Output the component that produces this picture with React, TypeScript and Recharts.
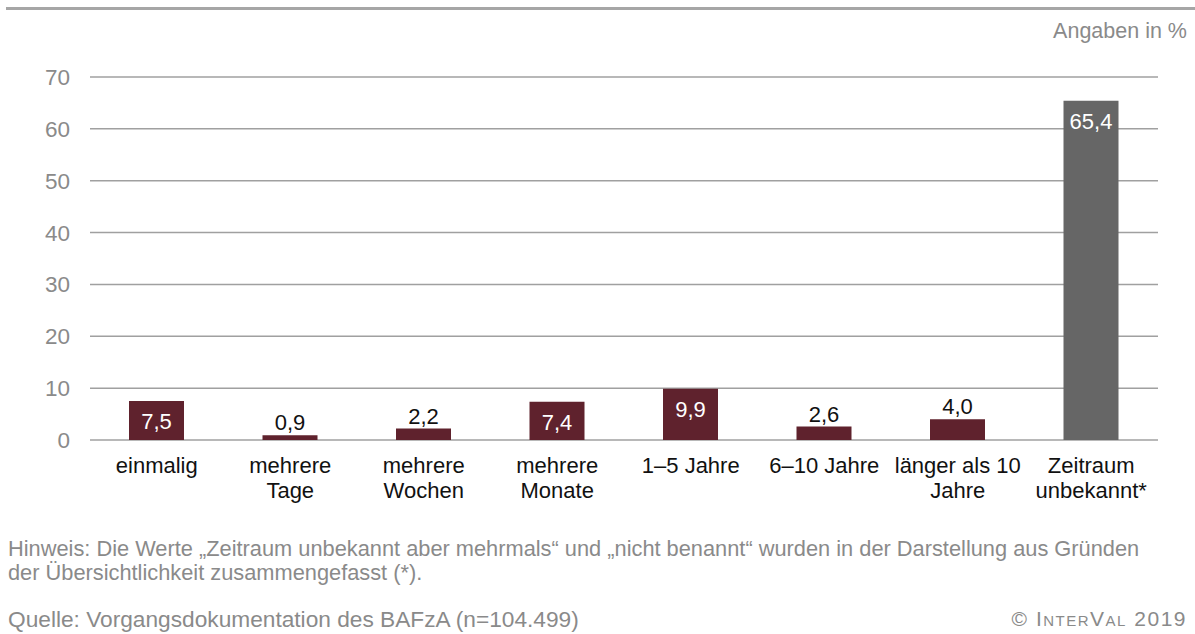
import { BarChart, Bar, XAxis, YAxis, CartesianGrid, Cell, LabelList } from 'recharts';

const categories = [
  'einmalig',
  'mehrere\nTage',
  'mehrere\nWochen',
  'mehrere\nMonate',
  '1–5 Jahre',
  '6–10 Jahre',
  'länger als 10\nJahre',
  'Zeitraum\nunbekannt*',
];
const values = [7.5, 0.9, 2.2, 7.4, 9.9, 2.6, 4.0, 65.4];
const yTicks = [0, 10, 20, 30, 40, 50, 60, 70];

const RED = '#5f222d';
const GREY_BAR = '#666666';
const TEXT_GREY = '#8a8a8a';
const FONT = 'Liberation Sans, Arial, sans-serif';

const data = categories.map((name, i) => ({ name, value: values[i] }));

const CategoryTick = (props: any) => {
  const { x, y, payload } = props;
  const lines = String(payload.value).split('\n');
  return (
    <text x={x} y={y} textAnchor="middle" fontSize={22} fill="#111" fontFamily={FONT}>
      {lines.map((l, i) => (
        <tspan key={i} x={x} dy={i === 0 ? 31 : 25}>
          {l}
        </tspan>
      ))}
    </text>
  );
};

// white label inside tall bars, dark label above short ones
const ValueLabel = (props: any) => {
  const { x, y, width, value } = props;
  const cx = x + width / 2;
  const txt = Number(value).toFixed(1).replace('.', ',');
  if (value >= 5) {
    return (
      <text x={cx} y={y + 28} textAnchor="middle" fontSize={22} fill="#fff" fontFamily={FONT}>
        {txt}
      </text>
    );
  }
  return (
    <text x={cx} y={y - 5} textAnchor="middle" fontSize={22} fill="#111" fontFamily={FONT}>
      {txt}
    </text>
  );
};

export default function App() {
  return (
    <div style={{ position: 'relative', width: 1195, height: 634, background: '#fff', fontFamily: FONT }}>
      <style>{`body{margin:0}`}</style>
      <div style={{ position: 'absolute', left: 6, right: 0, top: 7, height: 3, background: '#a6a6a6' }} />
      <div style={{ position: 'absolute', right: 8, top: 19, fontSize: 21.5, color: TEXT_GREY }}>Angaben in %</div>
      <div style={{ position: 'absolute', left: 0, top: 0 }}>
        <BarChart width={1195} height={520} data={data} margin={{ top: 77, right: 37, left: 0, bottom: 0 }}>
          <CartesianGrid vertical={false} stroke="#a0a0a0" strokeWidth={1.5} />
          <XAxis
            dataKey="name"
            axisLine={false}
            tickLine={false}
            tickSize={0}
            interval={0}
            height={80}
            tick={<CategoryTick />}
          />
          <YAxis
            width={90}
            domain={[0, 70]}
            ticks={yTicks}
            axisLine={false}
            tickLine={false}
            tickMargin={14}
            tick={{ fill: TEXT_GREY, fontSize: 22.5, fontFamily: FONT }}
          />
          <Bar dataKey="value" barSize={55} isAnimationActive={false}>
            {data.map((d, i) => (
              <Cell key={i} fill={i === data.length - 1 ? GREY_BAR : RED} />
            ))}
            <LabelList dataKey="value" content={<ValueLabel />} />
          </Bar>
        </BarChart>
      </div>
      <div style={{ position: 'absolute', left: 8, top: 537, fontSize: 21.8, lineHeight: '24px', color: TEXT_GREY, width: 1185, whiteSpace: 'nowrap' }}>
        Hinweis: Die Werte „Zeitraum unbekannt aber mehrmals“ und „nicht benannt“ wurden in der Darstellung aus Gründen
        <br />
        der Übersichtlichkeit zusammengefasst (*).
      </div>
      <div style={{ position: 'absolute', left: 8, top: 606, fontSize: 22.7, lineHeight: 'normal', color: TEXT_GREY, whiteSpace: 'nowrap' }}>
        Quelle: Vorgangsdokumentation des BAFzA (n=104.499)
      </div>
      <div style={{ position: 'absolute', right: 8, top: 607, fontSize: 21, lineHeight: 'normal', color: TEXT_GREY, fontVariant: 'small-caps', letterSpacing: 1.5, whiteSpace: 'nowrap' }}>
        © InterVal 2019
      </div>
    </div>
  );
}
